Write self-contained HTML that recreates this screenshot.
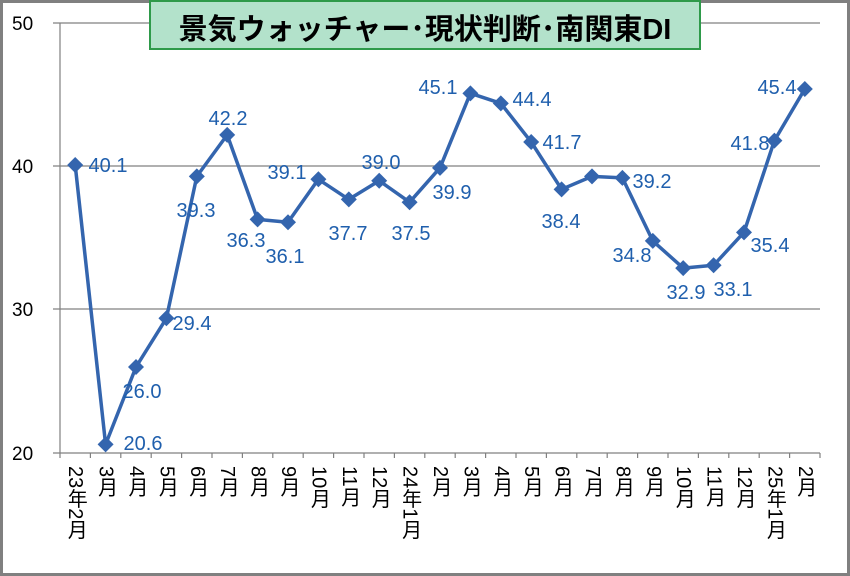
<!DOCTYPE html>
<html><head><meta charset="utf-8"><style>
html,body{margin:0;padding:0;background:#fff}
svg{display:block}
.l{font-family:"Liberation Sans","Noto Sans CJK JP",sans-serif;font-size:20px;fill:#1f5fad}
.a{font-family:"Liberation Sans","Noto Sans CJK JP",sans-serif;font-size:19px;fill:#000}
.x{font-family:"Liberation Sans","Noto Sans CJK JP",sans-serif;font-size:20px;fill:#000;writing-mode:tb;glyph-orientation-vertical:0}
</style></head><body>
<svg width="850" height="576" xmlns="http://www.w3.org/2000/svg">
<rect x="1.5" y="1.5" width="847" height="573" fill="#fff" stroke="#808080" stroke-width="3"/>
<g stroke="#808080" stroke-width="1.2">
<line x1="53" y1="23" x2="820" y2="23"/>
<line x1="53" y1="166" x2="820" y2="166"/>
<line x1="53" y1="309" x2="820" y2="309"/>
<line x1="53" y1="453" x2="820" y2="453"/>
<line x1="60" y1="23" x2="60" y2="453"/>
</g>
<g stroke="#808080" stroke-width="1.2" id="ticks"></g>
<text class="a" x="12" y="30">50</text>
<text class="a" x="12" y="173">40</text>
<text class="a" x="12" y="316">30</text>
<text class="a" x="12" y="460">20</text>
<rect x="150" y="1" width="550" height="48" fill="#b3e2cb" stroke="#2e9a4a" stroke-width="2"/>
<text x="425" y="39" text-anchor="middle" style="font-family:'Liberation Sans','Noto Sans CJK JP',sans-serif;font-size:29px;font-weight:bold" fill="#000">景気ウォッチャー･現状判断･南関東DI</text>
<g id="g"></g>
</svg>
<script>
var v=[40.1,20.6,26.0,29.4,39.3,42.2,36.3,36.1,39.1,37.7,39.0,37.5,39.9,45.1,44.4,41.7,38.4,39.3,39.2,34.8,32.9,33.1,35.4,41.8,45.4];
var labs=["23年2月","3月","4月","5月","6月","7月","8月","9月","10月","11月","12月","24年1月","2月","3月","4月","5月","6月","7月","8月","9月","10月","11月","12月","25年1月","2月"];
var lp=[[108,165],[143,443],[142,391],[192,323],[196,210],[228,118],[246,240],[285,256],[287,172],[348,233],[381,162],[411,233],[452,192],[438,87],[532,99],[562,142],[561,221],null,[652,181],[632,255],[686,292],[733,289],[770,245],[750,143],[777,87]];
var X=i=>75.2+30.4*i, Y=x=>453-(x-20)*14.33;
var s='',p='';
for(var i=0;i<25;i++){p+=(i?'L':'M')+X(i).toFixed(1)+' '+Y(v[i]).toFixed(1);}
s+='<path d="'+p+'" fill="none" stroke="#3465ae" stroke-width="3.5" stroke-linejoin="round"/>';
for(var i=0;i<25;i++){var x=X(i),y=Y(v[i]);s+='<path d="M'+x+' '+(y-8)+'L'+(x+8)+' '+y+'L'+x+' '+(y+8)+'L'+(x-8)+' '+y+'Z" fill="#3465ae"/>';
if(lp[i])s+='<text class="l" text-anchor="middle" x="'+lp[i][0]+'" y="'+(lp[i][1]+7)+'">'+v[i].toFixed(1)+'</text>';
s+='<text class="x" x="'+(x)+'" y="466">'+labs[i]+'</text>';}
var t='';for(var i=0;i<=25;i++){var x=60+30.4*i;t+='<line x1="'+x+'" y1="453" x2="'+x+'" y2="458"/>';}
document.getElementById('ticks').innerHTML=t;
document.getElementById('g').innerHTML=s;
</script>
</body></html>
